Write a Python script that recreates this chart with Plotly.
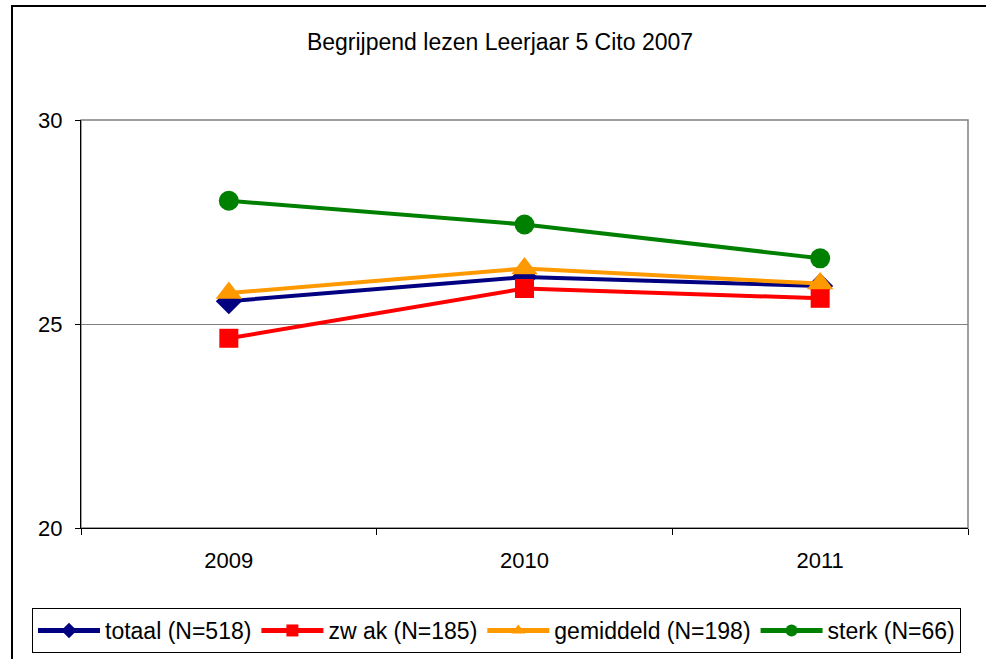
import plotly.graph_objects as go

years = ["2009", "2010", "2011"]
totaal = [25.56, 26.15, 25.93]
zwak = [24.65, 25.87, 25.63]
gemiddeld = [25.76, 26.36, 25.99]
sterk = [28.02, 27.44, 26.61]

names = ["totaal (N=518)", "zw ak (N=185)", "gemiddeld (N=198)", "sterk (N=66)"]
colors = ["#000080", "#FF0000", "#FF9900", "#008000"]
symbols = ["diamond", "square", "triangle-up", "circle"]
sizes = [20, 19, 23, 20]
series = [totaal, zwak, gemiddeld, sterk]

fig = go.Figure()
for name, col, sym, sz, vals in zip(names, colors, symbols, sizes, series):
    fig.add_trace(go.Scatter(
        x=years, y=vals, name=name, mode="lines+markers",
        line=dict(color=col, width=4),
        marker=dict(symbol=sym, size=sz, color=col),
    ))

W, H = 986, 659
L, R, T, B = 81, 968, 120, 528
pw, ph = R - L, B - T

def px(x):
    return (x - L) / pw

def py(y):
    return (B - y) / ph

fig.update_layout(
    width=W, height=H,
    margin=dict(l=L, r=W - R, t=T, b=H - B, autoexpand=False),
    paper_bgcolor="white", plot_bgcolor="white",
    font=dict(family="Liberation Sans, Arial, sans-serif", color="black", size=22),
    title=dict(text="Begrijpend lezen Leerjaar 5 Cito 2007", x=500 / W, xref="container",
               xanchor="center", y=1 - 42 / H, yref="container", yanchor="middle",
               font=dict(size=23)),
    showlegend=True,
    legend=dict(orientation="h", xref="paper", yref="paper",
                x=px(32), y=py(608), xanchor="left", yanchor="top",
                bordercolor="black", borderwidth=1, font=dict(size=23),
                itemsizing="constant", itemwidth=62, tracegroupgap=0),
    xaxis=dict(type="category", range=[-0.5, 2.5], tickson="boundaries",
               ticks="outside", ticklen=6, tickcolor="black",
               showline=True, linecolor="black", linewidth=1,
               showgrid=False, ticklabelstandoff=13, zeroline=False),
    yaxis=dict(range=[20, 30], tickvals=[20, 25, 30], ticks="outside", ticklen=5,
               tickcolor="black", showline=True, linecolor="black", linewidth=1,
               showgrid=True, gridcolor="#808080", gridwidth=1,
               ticklabelstandoff=8, zeroline=False),
    shapes=[
        dict(type="rect", xref="paper", yref="paper", x0=0, x1=1, y0=0, y1=1,
             line=dict(color="#808080", width=1.5), layer="below"),
        dict(type="rect", xref="paper", yref="paper", x0=px(12), x1=px(1000),
             y0=py(6), y1=py(680), line=dict(color="black", width=2)),
    ],
)

fig.write_html("out.html", config={"displayModeBar": False},
               post_script="document.body.style.margin='0';document.body.style.overflow='hidden';")
